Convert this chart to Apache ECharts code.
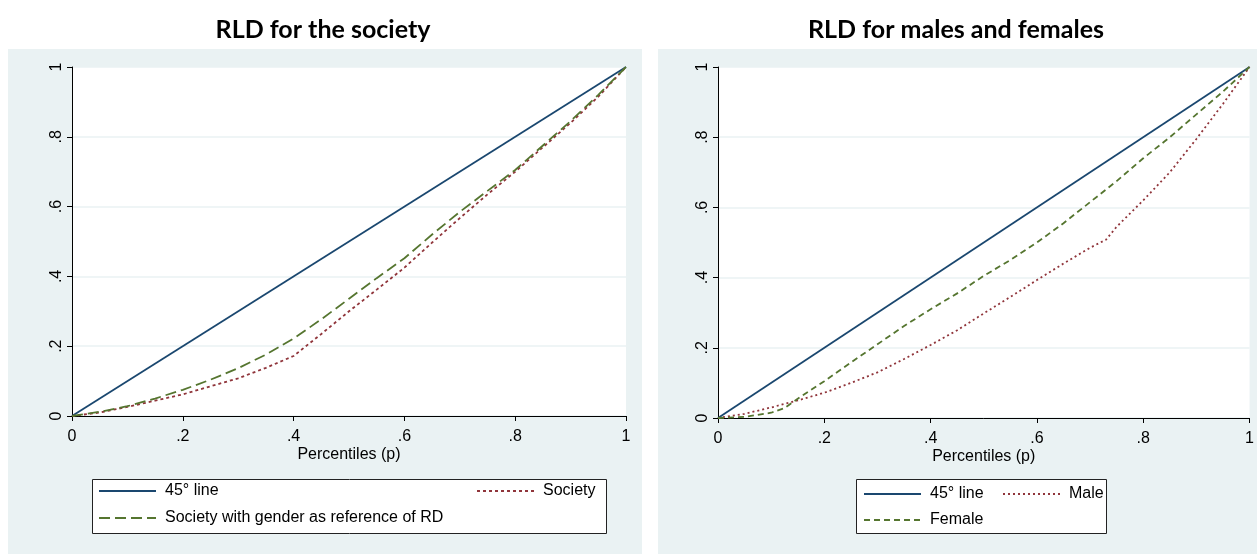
<!DOCTYPE html>
<html><head><meta charset="utf-8">
<script src="https://cdn.jsdelivr.net/npm/echarts@6/dist/echarts.min.js"></script>
<style>html,body{margin:0;padding:0;background:#fff}#c{width:1257px;height:554px}</style>
</head><body><div id="c"></div>
<script>
// ---- data ----
const xTicks = [0, 0.2, 0.4, 0.6, 0.8, 1];
const tickLabels = ['0', '.2', '.4', '.6', '.8', '1'];
const line45X = [0, 1];
const line45Y = [0, 1];
// left panel
const pLeft = [0, .05, .1, .15, .2, .25, .3, .35, .4, .45, .5, .55, .6, .65, .7, .75, .8, .85, .9, .95, 1];
const society = [0, .01, .026, .044, .062, .085, .108, .138, .172, .235, .3, .362, .425, .497, .567, .635, .7, .77, .84, .915, 1];
const societyGender = [0, .012, .028, .05, .075, .104, .137, .176, .222, .277, .336, .395, .452, .52, .585, .645, .705, .775, .845, .92, 1];
// right panel
const pMale = [0, .05, .1, .15, .2, .25, .3, .35, .4, .45, .5, .55, .6, .65, .7, .73, .75, .8, .85, .9, .95, 1];
const male = [0, .012, .03, .05, .072, .1, .13, .168, .208, .25, .298, .345, .393, .44, .485, .508, .545, .62, .7, .795, .895, 1];
const pFemale = [0, .05, .1, .125, .15, .2, .25, .3, .35, .4, .45, .5, .55, .6, .65, .7, .75, .8, .85, .9, .95, 1];
const female = [0, .003, .015, .028, .055, .105, .158, .21, .262, .31, .355, .405, .45, .5, .555, .615, .675, .74, .8, .865, .93, 1];

const pairs = (xs, ys) => xs.map((x, i) => [x, ys[i]]);

const NAVY = '#1a476f', MAROON = '#90353b', GREEN = '#55752f';
const BG = '#eaf2f3';
const FONT = 'Liberation Sans, Arial, sans-serif';

function fmt(v) {
  const i = xTicks.findIndex(t => Math.abs(t - v) < 1e-9);
  return i >= 0 ? tickLabels[i] : '';
}
function xAx(gi) {
  return {
    type: 'value', gridIndex: gi, min: 0, max: 1, interval: 0.2,
    name: 'Percentiles (p)', nameLocation: 'middle', nameGap: 31, nameMoveOverlap: false,
    nameTextStyle: { fontFamily: FONT, fontSize: 16, color: '#000' },
    axisLine: { show: true, lineStyle: { color: '#000', width: 1 } },
    axisTick: { show: true, length: 5, lineStyle: { color: '#000' } },
    axisLabel: { formatter: fmt, fontFamily: FONT, fontSize: 16, color: '#000', margin: 13 },
    splitLine: { show: false }
  };
}
function yAx(gi) {
  return {
    type: 'value', gridIndex: gi, min: 0, max: 1, interval: 0.2,
    axisLine: { show: true, lineStyle: { color: '#000', width: 1 } },
    axisTick: { show: true, length: 5, lineStyle: { color: '#000' } },
    axisLabel: { formatter: fmt, fontFamily: FONT, fontSize: 16, color: '#000', rotate: 90, margin: 7 },
    splitLine: { show: true, lineStyle: { color: BG, width: 1.5 } }
  };
}
function ser(name, gi, data, color, type) {
  return {
    name, type: 'line', xAxisIndex: gi, yAxisIndex: gi, data, symbol: 'none',
    smooth: false, lineStyle: { color, width: 1.8, type }, itemStyle: { color },
    animation: false
  };
}
function leg(name, left, top) {
  return {
    data: [name], left, top, padding: 0, itemWidth: 57, itemHeight: 12, z: 10,
    selectedMode: false,
    itemStyle: { opacity: 0 },
    textStyle: { fontFamily: FONT, fontSize: 16, color: '#000', padding: [0, 0, 0, 4] }
  };
}

const chart = echarts.init(document.getElementById('c'), null, { renderer: 'canvas' });
chart.setOption({
  animation: false,
  backgroundColor: '#fff',
  graphic: [
    { type: 'rect', z: -10, shape: { x: 8, y: 49, width: 634, height: 505 }, style: { fill: BG } },
    { type: 'rect', z: -10, shape: { x: 658, y: 49, width: 599, height: 505 }, style: { fill: BG } },
    { type: 'rect', z: 1, shape: { x: 92.5, y: 479.5, width: 514, height: 54 }, style: { fill: '#fff', stroke: '#222', lineWidth: 1 } },
    { type: 'rect', z: 1, shape: { x: 856.5, y: 479.5, width: 250, height: 54 }, style: { fill: '#fff', stroke: '#222', lineWidth: 1 } },
    { type: 'text', z: 5, x: 323, y: 30, style: { text: 'RLD for the society', fontFamily: 'Lato, sans-serif', fontWeight: 'bold', fontSize: 25, fill: '#000', align: 'center', verticalAlign: 'middle' } },
    { type: 'text', z: 5, x: 956, y: 30, style: { text: 'RLD for males and females', fontFamily: 'Lato, sans-serif', fontWeight: 'bold', fontSize: 25, fill: '#000', align: 'center', verticalAlign: 'middle' } }
  ],
  grid: [
    { left: 72, right: 631, top: 67, bottom: 138, show: true, backgroundColor: '#fff', borderWidth: 0 },
    { left: 718, right: 4, top: 67, bottom: 136, show: true, backgroundColor: '#fff', borderWidth: 0 }
  ],
  xAxis: [xAx(0), xAx(1)],
  yAxis: [yAx(0), yAx(1)],
  legend: [
    leg('45° line', 98, 483),
    leg('Society', 476, 483),
    leg('Society with gender as reference of RD', 98, 510),
    leg('45° line', 863, 486),
    leg('Male', 1002, 486),
    leg('Female', 863, 512)
  ],
  series: [
    ser('45° line', 0, pairs(line45X, line45Y), NAVY, 'solid'),
    ser('Society', 0, pairs(pLeft, society), MAROON, [3, 3]),
    ser('Society with gender as reference of RD', 0, pairs(pLeft, societyGender), GREEN, [11, 5]),
    ser('45° line', 1, pairs(line45X, line45Y), NAVY, 'solid'),
    ser('Male', 1, pairs(pMale, male), MAROON, [2, 3]),
    ser('Female', 1, pairs(pFemale, female), GREEN, [6, 4])
  ]
});
</script></body></html>
